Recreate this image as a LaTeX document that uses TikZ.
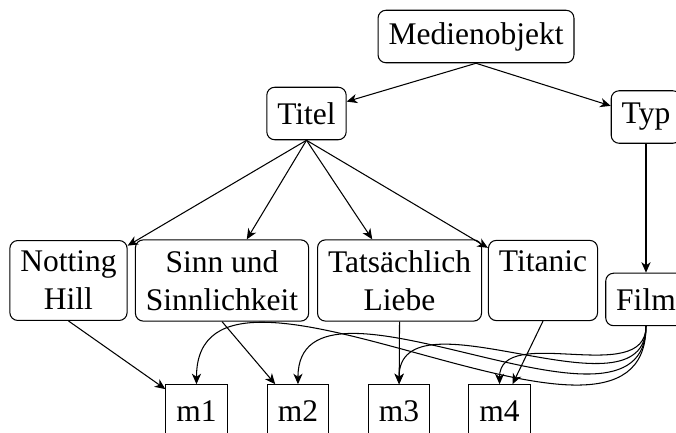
\documentclass[tikz,border=0pt,12pt]{standalone}
\usepackage{fontspec}
\setmainfont{Liberation Serif}
\usetikzlibrary{arrows.meta}

\tikzset{
  obj/.style={draw,rounded corners=3pt,align=center,minimum height=20pt},
  mobj/.style={draw,minimum height=20pt},
  arr/.style={-{Stealth[length=4pt,width=3.5pt,inset=1.2pt]}}
}

\begin{document}
\begin{tikzpicture}
\useasboundingbox (0,0) rectangle (9.052,5.798);

\node[obj] at (6.374,5.309) (medien) {Medienobjekt};
\node[obj] at (4.104,4.278) (titel) {Titel};
\node[obj] at (8.650,4.231) (typ) {Typ};

\node[obj] at (0.917,2.042) (notting) {Notting\\Hill};
\node[obj] at (2.973,2.042) (sinn) {Sinn und\\Sinnlichkeit};
\node[obj] at (5.350,2.042) (liebe) {Tatsächlich\\Liebe};
\node[obj] at (7.271,2.042) (titanic) {Titanic\\\phantom{Liebe}};
\node[obj] at (8.650,1.788) (film) {Film};

\node[mobj] at (2.631,0.295) (m1) {m1};
\node[mobj] at (3.990,0.295) (m2) {m2};
\node[mobj] at (5.343,0.295) (m3) {m3};
\node[mobj] at (6.689,0.295) (m4) {m4};

\draw[arr] (medien.south) -- (titel);
\draw[arr] (medien.south) -- (typ);

\draw[arr] (titel.south) -- (notting);
\draw[arr] (titel.south) -- (sinn);
\draw[arr] (titel.south) -- (liebe);
\draw[arr] (titel.south) -- (titanic);
\draw[arr] (typ.south) -- (film);

\draw[arr] (notting.south) -- (m1);
\draw[arr] (sinn.south) -- (m2);
\draw[arr] (liebe.south) -- (m3);
\draw[arr] (titanic.south) -- (m4);

% Film zu allen Medienobjekten
\draw[arr] (film.south) to[out=-90,in=90] (m1.north);
\draw[arr] (film.south) to[out=-90,in=90] (m2.north);
\draw[arr] (film.south) to[out=-90,in=90] (m3.north);
\draw[arr] (film.south) to[out=-90,in=90] (m4.north);
\end{tikzpicture}
\end{document}
